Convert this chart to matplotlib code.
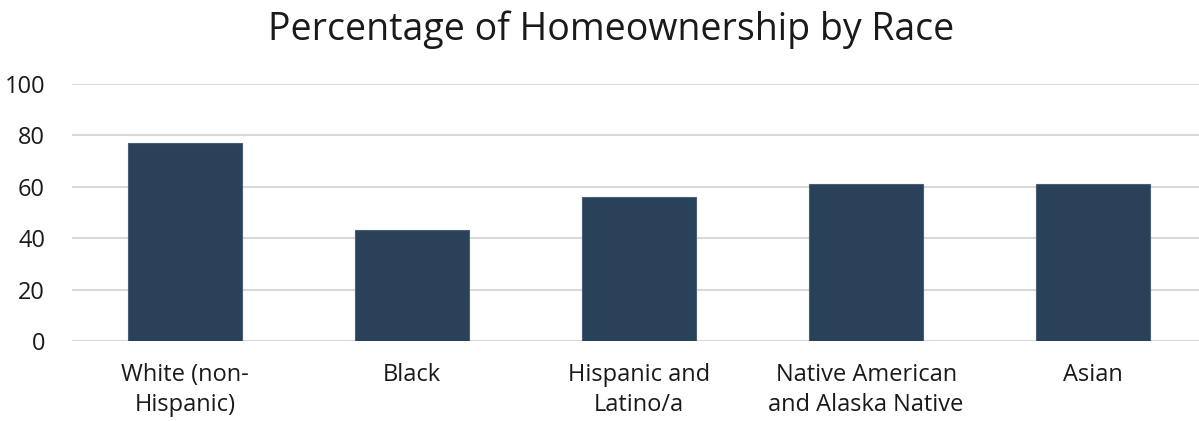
import matplotlib
matplotlib.use("Agg")
import matplotlib.pyplot as plt

categories = ["White (non-\nHispanic)", "Black", "Hispanic and\nLatino/a",
              "Native American\nand Alaska Native", "Asian"]
values = [77, 43, 56, 61, 61]
yticks = [0, 20, 40, 60, 80, 100]
title = "Percentage of Homeownership by Race"

plt.rcParams['font.family'] = ['Open Sans', 'DejaVu Sans']

W, H = 1199, 421
fig = plt.figure(figsize=(W / 100, H / 100), dpi=100)
left, right = 71.5, 1206.7
top, bottom = 84, 341
ax = fig.add_axes([left / W, 1 - bottom / H, (right - left) / W, (bottom - top) / H])

x = list(range(len(categories)))
ax.bar(x, values, width=0.5, color='#29425a', edgecolor='#4a5f75', linewidth=0.8, zorder=3)
ax.set_xlim(-0.5, len(categories) - 0.5)
ax.set_ylim(0, 100)
ax.set_yticks(yticks)
ax.set_yticklabels([str(v) for v in yticks], fontsize=17, color='#1a1a1a')
ax.set_xticks(x)
ax.set_xticklabels(categories, fontsize=17, color='#1a1a1a', linespacing=1.3)
ax.tick_params(axis='y', length=0, pad=19)
ax.tick_params(axis='x', length=0, pad=16)
ax.yaxis.grid(True, color='#d9d9d9', linewidth=1.5, zorder=0)
ax.set_axisbelow(True)
for s in ax.spines.values():
    s.set_visible(False)

fig.text(611.5 / W, 1 - 40 / H, title, ha='center', va='baseline', fontsize=27, color='#1a1a1a')

fig.savefig("out.png", dpi=100)
